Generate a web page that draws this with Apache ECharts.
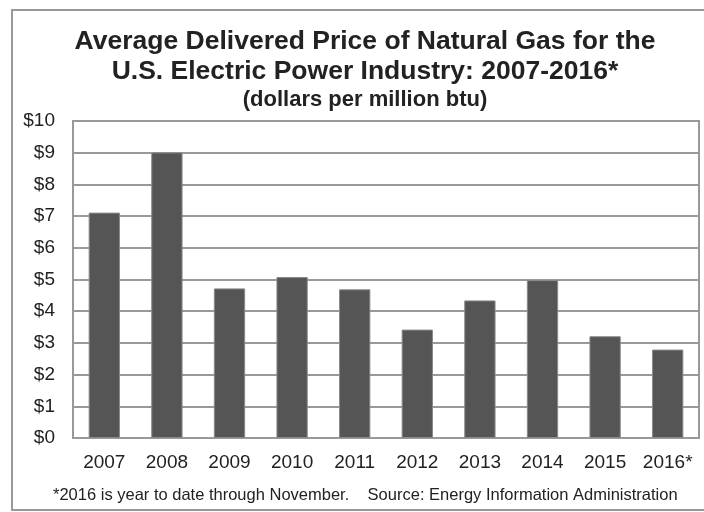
<!DOCTYPE html>
<html>
<head>
<meta charset="utf-8">
<script src="https://cdn.jsdelivr.net/npm/echarts@6/dist/echarts.min.js"></script>
<style>
html,body{margin:0;padding:0;background:#fff;}
#chart{width:704px;height:512px;}
</style>
</head>
<body>
<div id="chart"></div>
<script>
const categories = ['2007','2008','2009','2010','2011','2012','2013','2014','2015','2016*'];
const prices = [7.11, 9.01, 4.72, 5.08, 4.69, 3.42, 4.34, 4.98, 3.21, 2.79];
const titleLines = ['Average Delivered Price of Natural Gas for the', 'U.S. Electric Power Industry: 2007-2016*'];
const subtitle = '(dollars per million btu)';
const footnote = '*2016 is year to date through November.    Source: Energy Information Administration';

const FONT = '"Liberation Sans", Arial, sans-serif';
const TXT = '#222';
const chart = echarts.init(document.getElementById('chart'), null, {renderer: 'canvas'});
chart.setOption({
  backgroundColor: '#fff',
  animation: false,
  graphic: [
    {type: 'rect', shape: {x: 12, y: 10, width: 700, height: 500}, style: {fill: 'none', stroke: '#999', lineWidth: 2}, z: -1},
    {type: 'text', x: 365, y: 42, style: {text: titleLines[0], font: 'bold 26.5px ' + FONT, fill: TXT, align: 'center', verticalAlign: 'middle'}},
    {type: 'text', x: 365, y: 72, style: {text: titleLines[1], font: 'bold 26.5px ' + FONT, fill: TXT, align: 'center', verticalAlign: 'middle'}},
    {type: 'text', x: 365, y: 100, style: {text: subtitle, font: 'bold 22px ' + FONT, fill: TXT, align: 'center', verticalAlign: 'middle'}},
    {type: 'text', x: 53, y: 495, style: {text: footnote, font: '16.5px ' + FONT, fill: TXT, align: 'left', verticalAlign: 'middle'}}
  ],
  grid: {left: 73, right: 5, top: 121, bottom: 74, show: true, borderColor: '#999', borderWidth: 2, backgroundColor: 'transparent'},
  xAxis: {
    type: 'category',
    data: categories,
    axisLine: {show: true, lineStyle: {color: '#999', width: 2}},
    axisTick: {show: false},
    axisLabel: {interval: 0, fontFamily: FONT, fontSize: 19, color: TXT, margin: 15}
  },
  yAxis: {
    type: 'value',
    min: 0, max: 10, interval: 1,
    axisLine: {show: true, lineStyle: {color: '#999', width: 2}},
    axisTick: {show: false},
    splitLine: {lineStyle: {color: '#999', width: 2}},
    axisLabel: {fontFamily: FONT, fontSize: 19, color: TXT, margin: 18, formatter: v => '$' + v}
  },
  series: [{
    type: 'bar',
    data: prices,
    barWidth: '50%',
    itemStyle: {color: '#555555', borderColor: '#8a8a8a', borderWidth: 1}
  }]
});
</script>
</body>
</html>
